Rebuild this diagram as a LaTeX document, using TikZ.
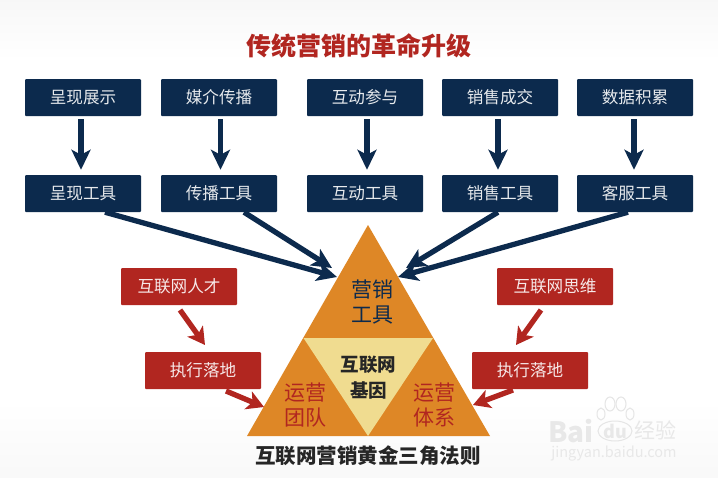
\documentclass[tikz,border=0pt]{standalone}
\usepackage{fontspec}
\setmainfont{Noto Sans CJK SC}
\usetikzlibrary{arrows.meta,shapes.geometric}
\definecolor{navy}{HTML}{0C2A4D}
\definecolor{brick}{HTML}{B12620}
\definecolor{amber}{HTML}{DE8726}
\definecolor{pale}{HTML}{F0DC90}
\tikzset{
 navybox/.style={fill=navy,text=white!90!navy,minimum width=116pt,minimum height=37pt,rounded corners=1pt,inner sep=0pt,font=\fontsize{16.6pt}{18pt}\selectfont},
 redbox/.style={navybox,fill=brick,text=white!90!brick},
 navyarrow/.style={draw=navy,line width=5.3pt,-{Stealth[length=20pt,width=19pt,inset=5pt]}},
 redarrow/.style={draw=brick,line width=5.3pt,-{Stealth[length=17pt,width=19pt,inset=4.5pt]}},
 tlabel/.style={align=center,inner sep=0pt,font=\fontsize{21pt}{25.5pt}\selectfont},
 wm/.style={text=black!9,inner sep=0pt}
}
\begin{document}
\begin{tikzpicture}[x=1pt,y=-1pt]
\useasboundingbox (0,0) rectangle (718,477);
\fill[white] (0,0) rectangle (718,477);
\shade[top color=black!3,bottom color=white] (0,0) rectangle (718,60);
\shade[top color=white,bottom color=black!2.5] (0,400) rectangle (718,477);
% watermark
\foreach \x/\y/\rx/\ry in {601/414/4/6,610/404/5/7,621/404/5/7,630/414/4/6}{\draw[black!10,line width=1pt] (\x,\y) ellipse[x radius=\rx,y radius=\ry];}
\draw[black!10,line width=1pt] (615,431) ellipse[x radius=17,y radius=10];
\node[wm,font=\bfseries\fontsize{28pt}{30pt}\selectfont] (wm1) at (571,431) {Bai};
\node[wm,font=\bfseries\fontsize{18pt}{20pt}\selectfont] (wm2) at (615,431) {du};
\node[wm,font=\fontsize{21pt}{24pt}\selectfont] (wm3) at (655,430) {经验};
\node[wm,font=\fontsize{14.5pt}{16pt}\selectfont] (wm4) at (614,454) {jingyan.baidu.com};
% title
\node[inner sep=0pt,text=brick,font=\bfseries\fontsize{25pt}{28pt}\selectfont] (title) at (358.5,46) {传统营销的革命升级};
% top boxes
\node[navybox] (a1) at (83,97.5) {呈现展示};
\node[navybox] (a2) at (219,97.5) {媒介传播};
\node[navybox] (a3) at (365,97.5) {互动参与};
\node[navybox] (a4) at (500,97.5) {销售成交};
\node[navybox] (a5) at (635,97.5) {数据积累};
\node[navybox] (b1) at (83,193.5) {呈现工具};
\node[navybox] (b2) at (219,193.5) {传播工具};
\node[navybox] (b3) at (365,193.5) {互动工具};
\node[navybox] (b4) at (500,193.5) {销售工具};
\node[navybox] (b5) at (635,193.5) {客服工具};
\foreach \i/\dx in {1/-2,2/1.5,3/2,4/-2,5/-1}{\draw[navyarrow,shorten <=3pt,shorten >=5pt] ([xshift=\dx pt]a\i.south) -- ([xshift=\dx pt]b\i.north);}
% triangle
\coordinate (apex) at (368,225);
\coordinate (bl) at (247,436);
\coordinate (br) at (490,436);
\coordinate (il) at (303.5,338);
\coordinate (ir) at (433,338);
\coordinate (ib) at (368,436);
\fill[amber] (apex) -- (br) -- (bl) -- cycle;
\fill[pale] (il) -- (ir) -- (ib) -- cycle;
\node[tlabel,text=navy] (t1) at (372,302) {营销\\工具};
\node[tlabel,text=brick] (t2) at (305,405) {运营\\团队};
\node[tlabel,text=brick] (t3) at (434,405) {运营\\体系};
\node[align=center,inner sep=0pt,text=black!85,font=\bfseries\fontsize{18.5pt}{26pt}\selectfont] (t4) at (368.5,378) {互联网\\基因};
\node[inner sep=0pt,text=black!85,font=\bfseries\fontsize{20.5pt}{24pt}\selectfont] (caption) at (368,456) {互联网营销黄金三角法则};
% navy diagonal arrows
\coordinate (n1) at (337,277);
\coordinate (n2) at (332,268);
\coordinate (n4) at (406,268);
\coordinate (n5) at (398,277);
\coordinate (s1) at (105,214);
\coordinate (s2) at (244,214);
\coordinate (s4) at (498,214);
\coordinate (s5) at (628,214);
\draw[navyarrow] (b1.south -| s1) -- (n1);
\draw[navyarrow] (b2.south -| s2) -- (n2);
\draw[navyarrow] (b4.south -| s4) -- (n4);
\draw[navyarrow] (b5.south -| s5) -- (n5);
% red boxes
\node[redbox] (r1) at (179,286.5) {互联网人才};
\node[redbox] (r2) at (203,370.5) {执行落地};
\node[redbox] (r3) at (555,286.5) {互联网思维};
\node[redbox] (r4) at (530,370.5) {执行落地};
\coordinate (c1) at (180,310);
\coordinate (c2) at (205,345);
\coordinate (c3) at (226,391);
\coordinate (c4) at (264,407);
\coordinate (c5) at (541,310);
\coordinate (c6) at (516,345);
\coordinate (c7) at (513,390);
\coordinate (c8) at (473,405);
\draw[redarrow] (c1) -- (c2);
\draw[redarrow] (c3) -- (c4);
\draw[redarrow] (c5) -- (c6);
\draw[redarrow] (c7) -- (c8);
\end{tikzpicture}
\end{document}
